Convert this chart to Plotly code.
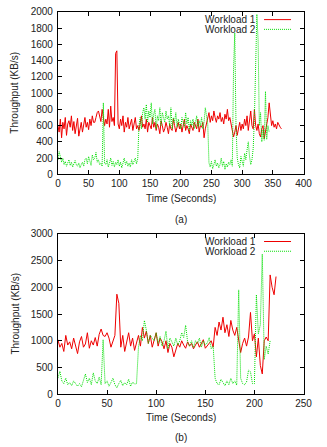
import plotly.graph_objects as go

# ---------------- data: panel (a) ----------------
time_a_w1 = list(range(0, 365, 2))
thr_a_w1 = [
    600, 520, 680, 450, 640, 560, 700, 480, 620, 660,
    580, 720, 540, 650, 500, 610, 690, 470, 560, 640,
    520, 620, 700, 580, 640, 550, 680, 600, 720, 640,
    640, 700, 760, 780, 720, 650, 800, 700, 600, 680,
    620, 800, 580, 840, 650, 700, 600, 1490, 1520, 620,
    560, 680, 600, 720, 520, 640, 580, 700, 560, 620,
    680, 540, 620, 700, 560, 600, 540, 650, 720, 580,
    620, 560, 680, 520, 640, 600, 560, 700, 580, 640,
    540, 620, 580, 500, 660, 600, 520, 560, 640, 580,
    500, 620, 560, 540, 680, 600, 520, 580, 640, 560,
    620, 520, 600, 680, 540, 600, 560, 500, 620, 580,
    540, 640, 600, 560, 680, 520, 600, 580, 640, 450,
    560, 620, 700, 760, 640, 720, 660, 780, 700, 640,
    720, 680, 760, 650, 700, 620, 740, 680, 800, 660,
    700, 620, 580, 460, 520, 600, 480, 560, 640, 540,
    620, 560, 680, 600, 720, 540, 640, 780, 600, 560,
    800, 600, 540, 620, 500, 460, 560, 600, 440, 520,
    640, 700, 880, 720, 600, 660, 580, 620, 560, 640,
    600, 580, 560,
]

time_a_w2 = list(range(0, 345, 2))
thr_a_w2 = [
    180, 280, 220, 150, 200, 120, 160, 100, 140, 180,
    110, 150, 90, 130, 170, 120, 100, 140, 80, 120,
    150, 100, 180, 200, 130, 220, 160, 110, 240, 180,
    200, 270, 150, 180, 120, 140, 100, 880, 140, 120,
    180, 90, 140, 200, 110, 160, 90, 150, 120, 180,
    100, 150, 80, 130, 200, 120, 160, 100, 140, 90,
    180, 120, 150, 200, 130, 190, 600, 700, 560, 760,
    820, 680, 860, 640, 780, 700, 880, 620, 740, 800,
    560, 720, 660, 820, 600, 760, 700, 640, 780, 680,
    720, 600, 820, 560, 700, 640, 760, 580, 680, 620,
    560, 700, 640, 580, 760, 620, 700, 540, 660, 600,
    680, 560, 640, 720, 580, 660, 600, 700, 560, 640,
    820, 700, 620, 140, 90, 160, 70, 120, 180, 100,
    140, 80, 120, 200, 100, 160, 60, 130, 90, 150,
    120, 180, 100, 1300, 1740, 600, 200, 120, 80, 220,
    150, 100, 260, 180, 300, 400, 220, 120, 180, 320,
    700, 1480, 1970, 1650, 600, 760, 400, 550, 420, 1020,
    430, 600, 520,
]

# ---------------- data: panel (b) ----------------
time_b_w1 = list(range(0, 223, 2))
thr_b_w1 = [
    1020, 880, 950, 800, 1100, 920, 980, 850, 1050, 900,
    760, 980, 1080, 880, 940, 1150, 860, 1000, 920, 1060,
    900, 1120, 1220, 1100, 1080, 1150, 1050, 880, 1000, 1100,
    1870, 1700, 880, 1100, 800, 1000, 1150, 900, 1050, 820,
    980, 1100, 900, 1250, 1050, 1180, 950, 1100, 880, 1020,
    1150, 900, 1050, 980, 850, 1000, 780, 950, 880, 700,
    820, 950, 880, 1000, 920, 860, 980, 900, 950, 850,
    920, 980, 880, 950, 1020, 860, 900, 950, 1000, 880,
    1250, 1100, 1350, 1200, 1440, 1150, 1300, 1080, 1380, 1200,
    1100, 1250, 1000, 780, 950, 1050, 900, 1070, 1530, 1000,
    1130, 700, 1050, 540, 380, 1000, 1070, 1000, 2230, 2000,
    1860, 2200,
]

time_b_w2 = list(range(0, 217, 2))
thr_b_w2 = [
    300, 430, 250, 200, 300, 180, 220, 160, 250, 190,
    150, 200, 140, 260, 380, 220, 300, 180, 400, 250,
    200, 320, 180, 1020, 200, 250, 150, 220, 300, 180,
    120, 200, 260, 160, 220, 180, 280, 150, 230, 190,
    200, 880, 1100, 1000, 1380, 1200, 950, 1100, 1050, 1000,
    1150, 950, 1080, 900, 1000, 1180, 850, 1050, 980, 900,
    1050, 920, 1000, 1150, 1060, 1290, 980, 900, 1000, 870,
    1000, 950, 1050, 880, 1000, 920, 960, 1060, 850, 900,
    300, 200, 180, 280, 220, 160, 250, 180, 300, 200,
    250, 170, 1950, 300, 200, 180, 230, 450, 420, 200,
    200, 1860, 1130, 1300, 2620, 650, 900, 750, 1000,
]

series_names = ["Workload 1", "Workload 2"]
x_ticks_a = [0, 50, 100, 150, 200, 250, 300, 350, 400]
y_ticks_a = [0, 200, 400, 600, 800, 1000, 1200, 1400, 1600, 1800, 2000]
x_ticks_b = [0, 50, 100, 150, 200, 250]
y_ticks_b = [0, 500, 1000, 1500, 2000, 2500, 3000]

# ---------------- styling ----------------
W, H = 327, 447
RED = "#ee0000"
GREEN = "#00dd00"
GDASH = "1px,1px"
FONT = "Liberation Sans, Arial, sans-serif"
TXT = "#222222"
FS = 10

def px(xp):
    return xp / W

def py(yp):
    return 1 - yp / H

fig = go.Figure()
fig.add_trace(go.Scatter(x=time_a_w1, y=thr_a_w1, mode="lines", line=dict(color=RED, width=1),
                         xaxis="x", yaxis="y", showlegend=False))
fig.add_trace(go.Scatter(x=time_a_w2, y=thr_a_w2, mode="lines", line=dict(color=GREEN, width=1, dash=GDASH),
                         xaxis="x", yaxis="y", showlegend=False))
fig.add_trace(go.Scatter(x=time_b_w1, y=thr_b_w1, mode="lines", line=dict(color=RED, width=1),
                         xaxis="x2", yaxis="y2", showlegend=False))
fig.add_trace(go.Scatter(x=time_b_w2, y=thr_b_w2, mode="lines", line=dict(color=GREEN, width=1, dash=GDASH),
                         xaxis="x2", yaxis="y2", showlegend=False))

ax_common = dict(showline=True, linecolor="#000000", linewidth=1, mirror="ticks", ticks="inside",
                 ticklen=4, tickcolor="#000000", showgrid=False, zeroline=False,
                 tickfont=dict(family=FONT, size=FS, color=TXT))

xdom = [px(57), px(312)]
fig.update_layout(
    width=W, height=H, margin=dict(l=0, r=0, t=0, b=0),
    paper_bgcolor="white", plot_bgcolor="white",
    font=dict(family=FONT, size=FS, color=TXT),
    xaxis=dict(domain=xdom, range=[0, 400], tickvals=x_ticks_a, anchor="y", **ax_common),
    yaxis=dict(domain=[py(173), py(6)], range=[0, 2000], tickvals=y_ticks_a, anchor="x",
               ticklabelstandoff=2, **ax_common),
    xaxis2=dict(domain=xdom, range=[0, 250], tickvals=x_ticks_b, anchor="y2", **ax_common),
    yaxis2=dict(domain=[py(399), py(234)], range=[0, 3000], tickvals=y_ticks_b, anchor="x2",
                ticklabelstandoff=2, **ax_common),
)

ann = []
shapes = []
panels = [("(a)", 6, 173, 198, 219), ("(b)", 234, 399, 423, 443)]
for label, top, bot, xt_y, lab_y in panels:
    ann.append(dict(text="Throughput (KB/s)", x=px(12), y=py((top + bot) / 2), xref="paper", yref="paper",
                    textangle=-90, showarrow=False, xanchor="center", yanchor="middle"))
    ann.append(dict(text="Time (Seconds)", x=px(184.5), y=py(xt_y), xref="paper", yref="paper",
                    showarrow=False, xanchor="center", yanchor="middle"))
    ann.append(dict(text=label, x=px(184.5), y=py(lab_y), xref="paper", yref="paper",
                    showarrow=False, xanchor="center", yanchor="middle"))
    # legend (gnuplot style: text then sample)
    for i, (name, col, dash) in enumerate(zip(series_names, [RED, GREEN], ["solid", GDASH])):
        yy = top + 8 + 10 * i
        ann.append(dict(text=name, x=px(265), y=py(yy), xref="paper", yref="paper",
                        showarrow=False, xanchor="right", yanchor="middle"))
        shapes.append(dict(type="line", xref="paper", yref="paper", x0=px(271), x1=px(299),
                           y0=py(yy), y1=py(yy), line=dict(color=col, width=1, dash=dash)))

fig.update_layout(annotations=ann, shapes=shapes)
fig.write_html("out.html")
